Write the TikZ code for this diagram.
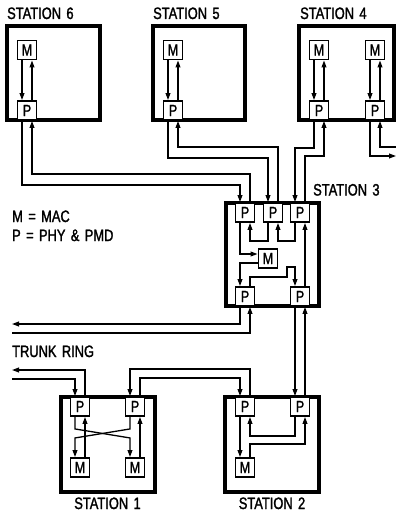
\documentclass[tikz,border=0pt]{standalone}
\usepackage{fontspec}
\newfontfamily\labfont{Liberation Sans}[FakeStretch=0.78,WordSpace=1.5,FakeBold=1.5]
\usetikzlibrary{arrows.meta}
\tikzset{
  station/.style={draw, line width=3.4pt, inner sep=0pt},
  sbox/.style={draw, fill=white, line width=1.9pt, minimum width=19pt, minimum height=19pt, inner sep=0pt, font=\labfont\fontsize{16}{16}\selectfont},
  arr/.style={line width=1.3pt, -{Triangle[length=7pt,width=4.8pt]}},
  lbl/.style={font=\labfont\fontsize{16.5}{18}\selectfont, inner sep=0pt}
}
\begin{document}
\begin{tikzpicture}[x=1pt,y=-1pt]
\useasboundingbox (0,0) rectangle (396,514);
% stations
\node[station, minimum width=93pt, minimum height=94pt] (st6) at (53.5,73) {};
\node[station, minimum width=92pt, minimum height=94pt] (st5) at (199,73) {};
\node[station, minimum width=95pt, minimum height=94pt] (st4) at (346.5,73) {};
\node[station, minimum width=93pt, minimum height=103pt] (st3) at (272.5,254.5) {};
\node[station, minimum width=94pt, minimum height=95pt] (st2) at (272,444.5) {};
\node[station, minimum width=94pt, minimum height=95pt] (st1) at (108,444.5) {};
% labels
\node[lbl, anchor=base west] (l6) at (7,19) {STATION 6};
\node[lbl, anchor=base west] (l5) at (153,19) {STATION 5};
\node[lbl, anchor=base west] (l4) at (300,19) {STATION 4};
\node[lbl, anchor=base west] (l3) at (313,195.5) {STATION 3};
\node[lbl, anchor=base] (l1) at (107.5,509) {STATION 1};
\node[lbl, anchor=base] (l2) at (272,509) {STATION 2};
\node[lbl, anchor=base west] (lt) at (12,357) {TRUNK RING};
\node[lbl, anchor=base west] (lm) at (12,222) {M = MAC};
\node[lbl, anchor=base west] (lp) at (12,241) {P = PHY \& PMD};
% small boxes
\node[sbox] (s6m) at (27,50) {M};
\node[sbox] (s6p) at (27,110.5) {P};
\node[sbox] (s5m) at (173,50) {M};
\node[sbox] (s5p) at (173,110.5) {P};
\node[sbox] (s4ma) at (319,50) {M};
\node[sbox] (s4pa) at (319,110.5) {P};
\node[sbox] (s4mb) at (375,50) {M};
\node[sbox] (s4pb) at (375,110.5) {P};
\node[sbox] (s3a) at (245,212.5) {P};
\node[sbox] (s3b) at (273,212.5) {P};
\node[sbox] (s3c) at (300,212.5) {P};
\node[sbox] (s3m) at (268,258.5) {M};
\node[sbox] (s3d) at (245,296.5) {P};
\node[sbox] (s3e) at (300,296.5) {P};
\node[sbox] (s2pa) at (245,406.5) {P};
\node[sbox] (s2pb) at (300,406.5) {P};
\node[sbox] (s2m) at (245,467.5) {M};
\node[sbox] (s1pa) at (80,406.5) {P};
\node[sbox] (s1pb) at (135,406.5) {P};
\node[sbox] (s1ma) at (80,467.5) {M};
\node[sbox] (s1mb) at (135,467.5) {M};
% free ends
\coordinate (e4o) at (396,156);
\coordinate (e4i) at (396,147);
\coordinate (w1) at (12,324);
\coordinate (w2) at (12,333);
\coordinate (w3) at (12,370);
\coordinate (w4) at (12,379);
% M-P inside stations 6,5,4
\foreach \m/\p in {s6m/s6p, s5m/s5p, s4ma/s4pa, s4mb/s4pb}{
  \draw[arr] ([xshift=-5pt]\m.south) -- ([xshift=-5pt]\p.north);
  \draw[arr] ([xshift=5pt]\p.north) -- ([xshift=5pt]\m.south);
}
% station 6 <-> station 3
\draw[arr] ([xshift=-5pt]s6p.south) -- ++(0,64) -| ([xshift=-5pt]s3a.north);
\draw[arr] ([xshift=5pt]s3a.north) -- ++(0,-28) -| ([xshift=5pt]s6p.south);
% station 5 <-> station 3
\draw[arr] ([xshift=-5pt]s5p.south) -- ++(0,37) -| ([xshift=-5pt]s3b.north);
\draw[arr] ([xshift=5pt]s3b.north) -- ++(0,-55) -| ([xshift=5pt]s5p.south);
% station 4 <-> station 3
\draw[arr] ([xshift=-5pt]s4pa.south) -- ++(0,27) -| ([xshift=-5pt]s3c.north);
\draw[arr] ([xshift=5pt]s3c.north) -- ++(0,-46) -| ([xshift=5pt]s4pa.south);
% station 4 right port
\draw[arr] ([xshift=-5pt]s4pb.south) |- (e4o);
\draw[arr] (e4i) -| ([xshift=5pt]s4pb.south);
% station 3 internal
\draw[arr] ([xshift=-5pt]s3b.south) -- ++(0,18) -| ([xshift=5pt]s3a.south);
\draw[arr] ([xshift=-5pt]s3c.south) -- ++(0,18) -| ([xshift=5pt]s3b.south);
\draw[arr] ([xshift=-5pt]s3a.south) |- ([yshift=4.5pt]s3m.west);
\draw[arr] ([yshift=-4.5pt]s3m.west) -| ([xshift=-5pt]s3d.north);
\draw[arr] ([xshift=5pt]s3d.north) -- ++(0,-9) -- ++(37,0) -- ++(0,-10) -| ([xshift=-5pt]s3e.north);
\draw[arr] ([xshift=5pt]s3e.north) -- ([xshift=5pt]s3c.south);
% station 3 outward
\draw[arr] ([xshift=-5pt]s3d.south) |- (w1);
\draw[arr] (w2) -| ([xshift=5pt]s3d.south);
\draw[arr] ([xshift=-5pt]s3e.south) -- ([xshift=-5pt]s2pb.north);
\draw[arr] ([xshift=5pt]s2pb.north) -- ([xshift=5pt]s3e.south);
% station 2 <-> station 1
\draw[arr] ([xshift=5pt]s2pa.north) -- ++(0,-27) -| ([xshift=-5pt]s1pb.north);
\draw[arr] ([xshift=5pt]s1pb.north) -- ++(0,-18) -| ([xshift=-5pt]s2pa.north);
% station 1 trunk
\draw[arr] ([xshift=5pt]s1pa.north) |- (w3);
\draw[arr] (w4) -| ([xshift=-5pt]s1pa.north);
% station 2 internal
\draw[arr] ([xshift=-5pt]s2pa.south) -- ([xshift=-5pt]s2m.north);
\draw[arr] ([xshift=-5pt]s2pb.south) -- ++(0,19) -| ([xshift=5pt]s2pa.south);
\draw[arr] ([xshift=5pt]s2m.north) -- ++(0,-13) -| ([xshift=5pt]s2pb.south);
% station 1 internal
\draw[arr] ([xshift=-5pt]s1pa.south) -- ++(0,12) -- ++(55,9) -- ([xshift=-5pt]s1mb.north);
\draw[arr] ([xshift=-5pt]s1pb.south) -- ++(0,12) -- ++(-55,9) -- ([xshift=-5pt]s1ma.north);
\draw[arr] ([xshift=5pt]s1ma.north) -- ([xshift=5pt]s1pa.south);
\draw[arr] ([xshift=5pt]s1mb.north) -- ([xshift=5pt]s1pb.south);
\end{tikzpicture}
\end{document}
